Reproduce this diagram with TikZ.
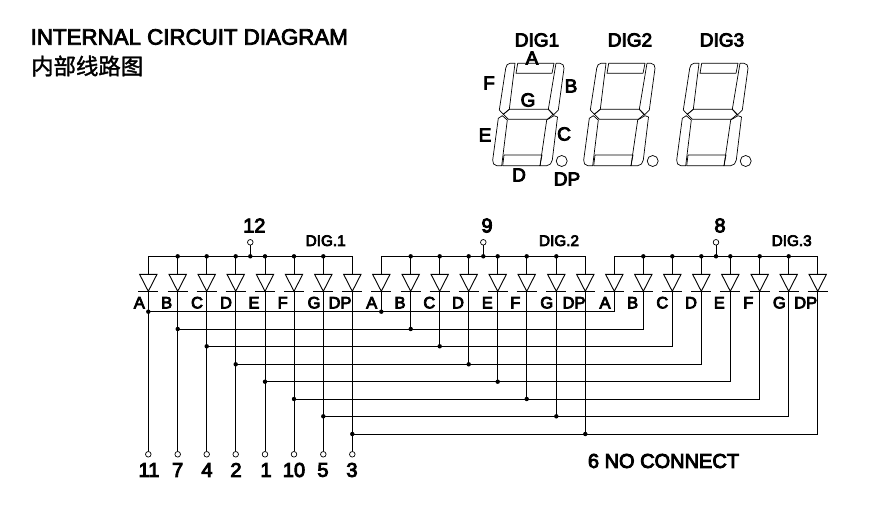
\documentclass[tikz,border=0pt]{standalone}
\usepackage{fontspec}
\setmainfont{Liberation Sans}
\newfontfamily\labfont[FakeBold=4.5]{Liberation Sans}
\newfontfamily\titlefont[FakeBold=3.5]{Liberation Sans}
\newfontfamily\cjkfont[FakeBold=1.5]{Noto Sans CJK SC}
\tikzset{
  wire/.style={line width=0.9pt,black},
  thin seg/.style={line width=0.7pt,black,line join=round},
  junction/.style={circle,fill=black,inner sep=0pt,minimum size=4.4pt},
  pinhole/.style={circle,draw=black,line width=0.7pt,fill=white,inner sep=0pt,minimum size=5.6pt},
  lab/.style={inner sep=0pt,font=\labfont\fontsize{16.5}{17}\selectfont},
  toplab/.style={inner sep=0pt,font=\labfont\fontsize{19}{20}\selectfont},
  diglab/.style={inner sep=0pt,font=\labfont\fontsize{15.3}{16}\selectfont},
  pinlab/.style={inner sep=0pt,font=\labfont\fontsize{20}{21}\selectfont},
  tag/.style={inner sep=0pt,font=\labfont\fontsize{20}{21}\selectfont},
}
\begin{document}
\begin{tikzpicture}[x=1pt,y=-1pt]
\useasboundingbox (0,0) rectangle (875,505);
\fill[white] (0,0) rectangle (875,505);
% Titles
\node[inner sep=0pt,anchor=west,font=\titlefont\fontsize{22.3}{24}\selectfont] (title) at (30.5,37) {INTERNAL CIRCUIT DIAGRAM};
\node[inner sep=0pt,anchor=west,font=\cjkfont\fontsize{22.4}{24}\selectfont] (titlecn) at (31,66) {内部线路图};
% Seven-segment digits
\foreach \name/\dx in {one/0,two/91,three/184}{
\begin{scope}[xshift=\dx pt]
 \draw[thin seg] (517.7,63.3) -- (554,63.3) -- (552,73.3) -- (516,73.3) -- cycle;
 \draw[thin seg] (515,63.3) -- (510,63.3) to[out=180,in=80] (505.7,68.3) -- (499.3,110) -- (503.3,114.3) -- (509.3,109.3) -- cycle;
 \draw[thin seg] (556,63.3) -- (560,63.3) to[out=0,in=80] (564,68.3) -- (558.3,110) -- (553.3,115) -- (548.3,109.3) -- cycle;
 \draw[thin seg] (503.3,114.3) -- (509.3,109.3) -- (548.3,109.3) -- (553.3,114.3) -- (547.3,119.3) -- (508.3,119.3) -- cycle;
 \draw[thin seg] (502.3,115.7) -- (507.3,120) -- (501.7,165.7) -- (496.7,165.7) to[out=180,in=260] (492.7,160) -- (498.3,118.3) -- cycle;
 \draw[thin seg] (554,115.7) -- (557.5,117) -- (552.3,160) to[out=260,in=0] (546.7,165.7) -- (540,165.7) -- (546.7,120) -- cycle;
 \draw[thin seg] (504,155) -- (542,155) -- (540,165.7) -- (502.7,165.7) -- cycle;
 \node[circle,draw=black,line width=0.7pt,inner sep=0pt,minimum size=11pt] (dp\name) at (561.7,161) {};
\end{scope}}
\node[toplab] (tdig1) at (537,40) {DIG1};
\node[toplab] (tdig2) at (630,40) {DIG2};
\node[toplab] (tdig3) at (722,40) {DIG3};
\node[toplab] (sa) at (532,58) {A};
\node[toplab] (sf) at (489,83) {F};
\node[toplab] (sb) at (571,86) {B};
\node[toplab] (sg) at (528,100) {G};
\node[toplab] (se) at (485,135) {E};
\node[toplab] (sc) at (564,134) {C};
\node[toplab] (sd) at (519,175) {D};
\node[toplab] (sdp) at (567,179) {DP};
% Common terminals and rails
\foreach \n/\xa/\xb/\xs/\lx/\pin in {1/148.3/352.3/250.3/254.3/12,2/381.3/585.3/483.3/487/9,3/614.3/817.7/716/720/8}{
  \coordinate (railL\n) at (\xa,256.3);
  \coordinate (railR\n) at (\xb,256.3);
  \node[pinhole] (com\n) at (\xs,242.3) {};
  \coordinate (comj\n) at (\xs,256.3);
  \draw[wire] (com\n) -- (comj\n);
  \node[junction] (comd\n) at (comj\n) {};
  \node[pinlab] (comlab\n) at (\lx,225.5) {\pin};
}
\node[diglab] (dg1) at (325.7,240.7) {DIG.1};
\node[diglab] (dg2) at (559,240.7) {DIG.2};
\node[diglab] (dg3) at (791.7,240.7) {DIG.3};
\foreach \n in {1,2,3} \draw[wire] (railL\n) -- (railR\n);
% Diodes: group / index / x / label / label x
\foreach \g/\i/\x/\l/\lx in {
 1/1/148.3/A/139.3,1/2/177.7/B/166.7,1/3/206.7/C/197,1/4/235.7/D/226,1/5/265/E/254,1/6/294/F/282.7,1/7/323.3/G/314,1/8/352.3/DP/340,
 2/1/381.3/A/371.7,2/2/410.7/B/400,2/3/439.7/C/429.3,2/4/468.7/D/458,2/5/497.7/E/487.3,2/6/526.7/F/515.3,2/7/556.3/G/546.7,2/8/585.3/DP/574,
 3/1/614.3/A/605,3/2/643.3/B/632.7,3/3/672.3/C/662.3,3/4/701.3/D/691,3/5/730.3/E/719.3,3/6/759.7/F/748.3,3/7/788.7/G/779.3,3/8/817.7/DP/805.7}{
  \coordinate (top\g\i) at (\x,256.3);
  \coordinate (an\g\i) at (\x,274.3);
  \coordinate (ca\g\i) at (\x,291.3);
  \draw[wire] (top\g\i) -- (an\g\i);
  \draw[wire,line join=miter] (\x-8.7,274.3) -- (\x+8.7,274.3) -- (ca\g\i) -- cycle;
  \draw[wire] (\x-10,291.3) -- (\x+10,291.3);
  \node[lab] (lab\g\i) at (\lx,302.7) {\l};
  \ifnum\i>1 \ifnum\i<8 \node[junction] (rj\g\i) at (top\g\i) {}; \fi\fi
}
% Pins, buses
\foreach \i/\y/\p/\px in {1/311.7/11/149,2/329/7/177.7,3/346.3/4/207,4/364.3/2/236,5/381.7/1/266,6/399/10/294,7/416.3/5/323,8/434/3/352}{
  \coordinate (pinpos\i) at (0,454.3);
  \node[pinhole] (pin\i) at (ca1\i |- pinpos\i) {};
  \node[pinlab] (pinlab\i) at (\px,470) {\p};
  \draw[wire] (ca1\i) -- (pin\i);
  \coordinate (level\i) at (0,\y);
  \coordinate (b1\i) at (ca1\i |- level\i);
  \coordinate (b2\i) at (ca2\i |- level\i);
  \coordinate (b3\i) at (ca3\i |- level\i);
  \draw[wire] (ca2\i) -- (b2\i);
  \draw[wire] (b1\i) -- (b3\i) -- (ca3\i);
  \node[junction] (jb1\i) at (b1\i) {};
  \node[junction] (jb2\i) at (b2\i) {};
}
\node[tag] (nc) at (663.5,461) {6 NO CONNECT};
\end{tikzpicture}
\end{document}
